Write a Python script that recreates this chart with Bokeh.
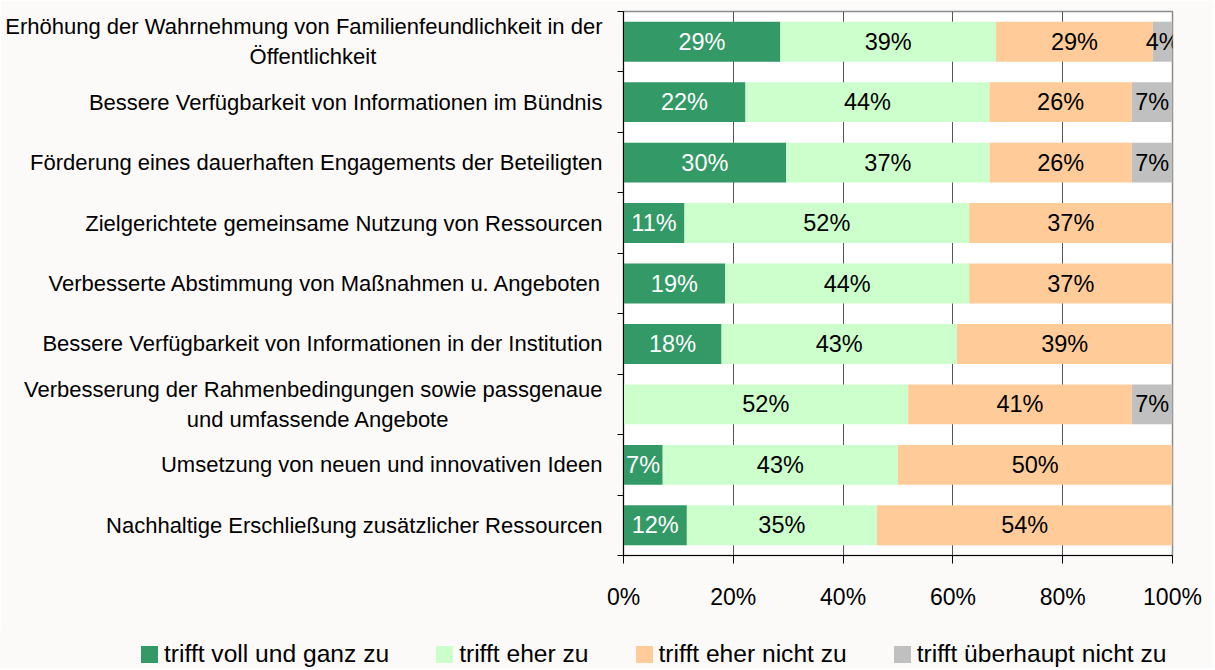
from bokeh.plotting import figure
from bokeh.layouts import column
from bokeh.models import Range1d, FixedTicker, PrintfTickFormatter, ColumnDataSource, LabelSet, Div
from bokeh.embed import file_html
from bokeh.resources import INLINE
from bokeh.core.properties import value, field

categories = [
    "Erhöhung der Wahrnehmung von Familienfeundlichkeit in der\nÖffentlichkeit",
    "Bessere Verfügbarkeit von Informationen im Bündnis",
    "Förderung eines dauerhaften Engagements der Beteiligten",
    "Zielgerichtete gemeinsame Nutzung von Ressourcen",
    "Verbesserte Abstimmung von Maßnahmen u. Angeboten",
    "Bessere Verfügbarkeit von Informationen in der Institution",
    "Verbesserung der Rahmenbedingungen sowie passgenaue\nund umfassende Angebote",
    "Umsetzung von neuen und innovativen Ideen",
    "Nachhaltige Erschließung zusätzlicher Ressourcen",
]
series = ["trifft voll und ganz zu", "trifft eher zu", "trifft eher nicht zu", "trifft überhaupt nicht zu"]
voll = [28.57, 22.22, 29.63, 11.11, 18.52, 17.86, 0.0, 7.14, 11.54]
eher = [39.29, 44.44, 37.04, 51.85, 44.44, 42.86, 51.85, 42.86, 34.62]
eher_nicht = [28.57, 25.93, 25.93, 37.04, 37.04, 39.29, 40.74, 50.00, 53.85]
ueberhaupt = [3.57, 7.41, 7.41, 0.0, 0.0, 0.0, 7.41, 0.0, 0.0]
x_ticks = [0, 20, 40, 60, 80, 100]

colors = ["#339966", "#ccffcc", "#ffcc99", "#c0c0c0"]
label_colors = ["white", "black", "black", "black"]
BG = "#fbfaf8"
FONT = "Liberation Sans"
NBSP = "\u00a0"
# trailing padding that visually centres the second line of a wrapped label
second_line_pad = {0: 37, 6: 25}

W = 1213
n = len(categories)
ypos = [n - i - 0.5 for i in range(n)]
keys = ["voll", "eher", "eher_nicht", "ueberhaupt"]
data = {"y": ypos, "voll": voll, "eher": eher, "eher_nicht": eher_nicht, "ueberhaupt": ueberhaupt}
src = ColumnDataSource(data)

p = figure(width=W, height=630, x_range=Range1d(0, 100), y_range=Range1d(0, n),
           output_backend="svg", toolbar_location=None,
           min_border_left=623, min_border_right=W - 1172, min_border_top=11, min_border_bottom=75,
           background_fill_color="white", border_fill_color=BG,
           outline_line_color="#8c8c8c", outline_line_width=1.5)

p.hbar_stack(keys, y="y", height=0.66, color=colors, line_color=None, source=src)

# bar labels
lx, ly, lt, lc = [], [], [], []
for r in range(n):
    start = 0.0
    for k, col in zip(keys, label_colors):
        v = data[k][r]
        if v > 0:
            lx.append(start + v / 2)
            ly.append(ypos[r])
            lt.append("%d%%" % int(v + 0.5))
            lc.append(col)
        start += v
lsrc = ColumnDataSource(dict(x=lx, y=ly, text=lt, color=lc))
p.add_layout(LabelSet(x="x", y="y", text="text", source=lsrc, text_align="center",
                      text_baseline="middle", text_color=field("color"),
                      text_font=value(FONT), text_font_size="23.5px"))

# x axis
p.xaxis.ticker = FixedTicker(ticks=x_ticks)
p.xaxis.formatter = PrintfTickFormatter(format="%d%%")
p.xaxis.major_label_text_font = FONT
p.xaxis.major_label_text_font_size = "23px"
p.xaxis.major_label_text_color = "black"
p.xaxis.major_tick_out = 8
p.xaxis.major_tick_in = 0
p.xaxis.major_tick_line_color = "black"
p.xaxis.axis_line_color = "black"
p.xaxis.major_label_standoff = 20

# y axis: labels at category centres, ticks at category boundaries
labels = {}
for i, (y, c) in enumerate(zip(ypos, categories)):
    if "\n" in c:
        c = c + NBSP * second_line_pad.get(i, 0)
    labels[y] = c
p.yaxis.ticker = FixedTicker(ticks=ypos, minor_ticks=list(range(n + 1)))
p.yaxis.major_label_overrides = labels
p.yaxis.major_label_text_font = FONT
p.yaxis.major_label_text_font_size = "22px"
p.yaxis.major_label_text_color = "black"
p.yaxis.major_tick_out = 0
p.yaxis.major_tick_in = 0
p.yaxis.minor_tick_out = 6
p.yaxis.minor_tick_in = 0
p.yaxis.minor_tick_line_color = "black"
p.yaxis.axis_line_color = "black"
p.yaxis.major_label_standoff = 15

p.xgrid.ticker = FixedTicker(ticks=x_ticks)
p.xgrid.grid_line_color = "#555555"
p.ygrid.grid_line_color = None

# legend strip below the chart
entries = []
for s, c in zip(series, colors):
    entries.append(
        '<span style="display:inline-flex;align-items:center;margin-right:47px;">'
        '<span style="display:inline-block;width:17px;height:17px;background:%s;'
        'margin-right:6px;"></span>%s</span>' % (c, s))
legend_html = (
    '<div style="display:flex;align-items:center;box-sizing:border-box;width:%dpx;height:38px;'
    'padding:10px 0 0 141px;background:%s;font-family:\'%s\';font-size:24.6px;color:black;'
    'white-space:nowrap;line-height:28px;">%s</div>' % (W, BG, FONT, "".join(entries)))
legend_div = Div(text=legend_html, width=W, height=38, margin=0,
                 styles={"background-color": BG})

layout = column(p, legend_div, spacing=0)
open("out.html", "w").write(file_html(layout, INLINE))
